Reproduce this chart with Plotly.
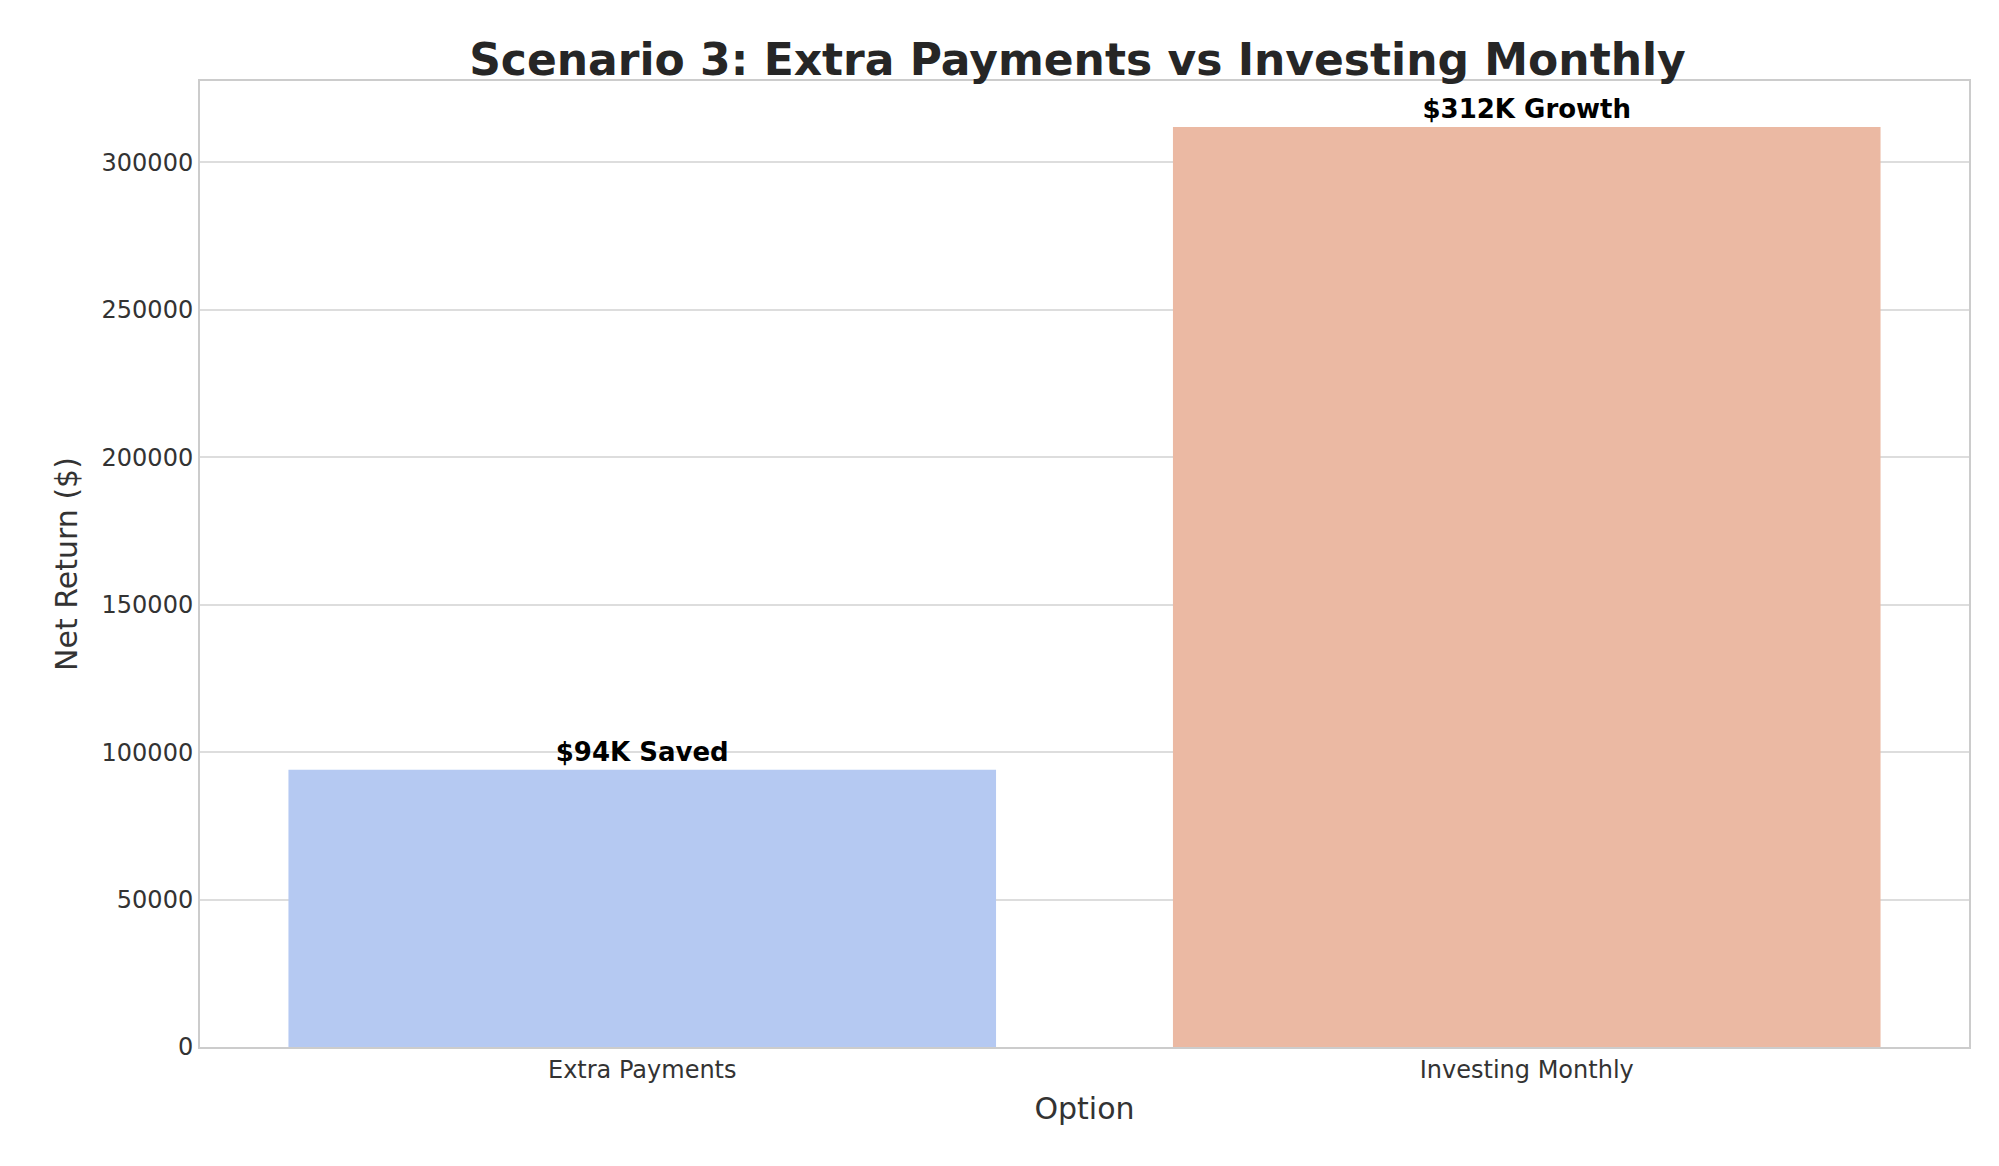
import plotly.graph_objects as go

options = ["Extra Payments", "Investing Monthly"]
net_return = [94000, 312000]
labels = ["$94K Saved", "$312K Growth"]
colors = ["#b5c9f2", "#ebb9a3"]

fig = go.Figure(go.Bar(
    x=options, y=net_return, width=0.8,
    marker=dict(color=colors, line=dict(width=0)),
    text=labels, textposition="outside", cliponaxis=False,
    textfont=dict(family="DejaVu Sans", size=26, color="black", weight="bold"),
))

fig.update_layout(
    width=1999, height=1166,
    font=dict(family="DejaVu Sans", color="#333333", size=24),
    title=dict(text="<b>Scenario 3: Extra Payments vs Investing Monthly</b>",
               x=0.535, xanchor="center", y=0.956, yanchor="middle",
               font=dict(size=44, color="#262626")),
    plot_bgcolor="white", paper_bgcolor="white",
    margin=dict(l=192, r=38, t=73, b=127),
    showlegend=False,
    xaxis=dict(title=dict(text="Option", font=dict(size=30), standoff=15),
               showline=True, linecolor="#cccccc", linewidth=2, mirror=True,
               tickfont=dict(size=24), ticks=""),
    yaxis=dict(title=dict(text="Net Return ($)", font=dict(size=30), standoff=15),
               range=[0, 327600], dtick=50000, tickformat="d",
               gridcolor="#dddddd", gridwidth=2, zeroline=False,
               showline=True, linecolor="#cccccc", linewidth=2, mirror=True,
               tickfont=dict(size=24), ticks=""),
)

fig.write_html("out.html")
